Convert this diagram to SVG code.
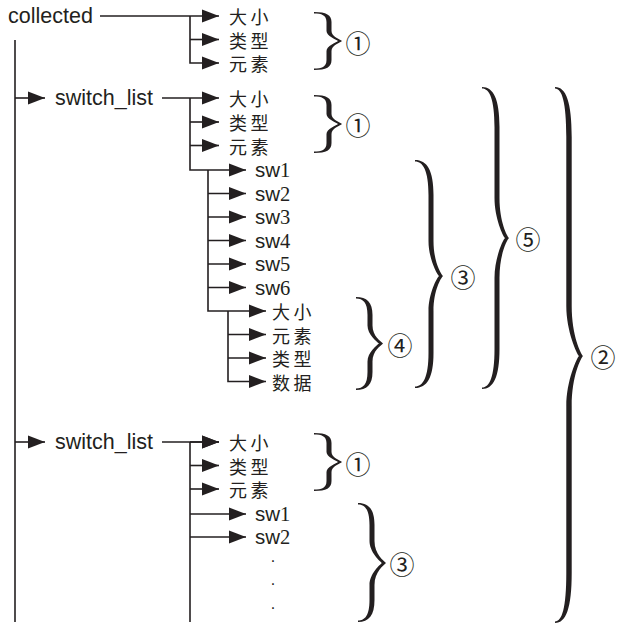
<svg xmlns="http://www.w3.org/2000/svg" xmlns:xlink="http://www.w3.org/1999/xlink" width="619" height="630" viewBox="0 0 619 630">
<style>
.lat{font-family:"Liberation Sans",Arial,sans-serif;font-size:21.5px;fill:#231f20}
.sw{font-family:"Liberation Sans",Arial,sans-serif;font-size:20.5px;fill:#231f20}
.dig{font-family:"Liberation Serif","Times New Roman",serif}
.cn{font-family:"Noto Sans CJK SC",sans-serif;font-size:18px;letter-spacing:3.5px;fill:#231f20;dominant-baseline:central;font-weight:400}
.num{font-family:"Noto Sans CJK SC",sans-serif;font-size:25px;fill:#231f20;text-anchor:middle;dominant-baseline:central;font-weight:400}
.dot{font-family:"Liberation Sans",sans-serif;font-size:16px;fill:#231f20;text-anchor:middle}
.ln{fill:none;stroke:#231f20;stroke-width:1.6}
.ar{marker-end:url(#ah)}
.br{fill:#231f20}
</style>
<defs>
<marker id="ah" markerUnits="userSpaceOnUse" markerWidth="17" markerHeight="14" refX="17" refY="7" orient="auto"><path d="M0,0.5 L17,7 L0,13.5 Z" fill="#231f20"/></marker>
<path id="b1" class="br" d="M0,0 C12.5,0 17.5,3 17.5,10 L17.5,19 C17.5,25 26,27 28,29 C26,31 17.5,33 17.5,39 L17.5,48 C17.5,55 12.5,58 0,58 L0,56.5 C7.5,56.5 12.5,55 12.5,48 L12.5,39 C12.5,34 22,30.5 24,29 C22,27.5 12.5,24 12.5,19 L12.5,10 C12.5,3 7.5,1.5 0,1.5 Z"/>
</defs>
<rect width="619" height="630" fill="#ffffff"/>

<g id="connectors">
<path class="ln" d="M15,40 V622"/>
<path class="ln ar" d="M100,16 H219"/>
<path class="ln ar" d="M190,16 V63 H219"/>
<path class="ln ar" d="M190,39.5 H219"/>
<path class="ln ar" d="M15,98 H45"/>
<path class="ln ar" d="M15,442 H45"/>
<path class="ln ar" d="M162,98 H219"/>
<path class="ln ar" d="M190,98 V170 H246"/>
<path class="ln ar" d="M190,122 H219"/>
<path class="ln ar" d="M190,145.5 H219"/>
<path class="ln ar" d="M208,170 V311 H266"/>
<path class="ln ar" d="M208,193.5 H246"/>
<path class="ln ar" d="M208,217 H246"/>
<path class="ln ar" d="M208,240.5 H246"/>
<path class="ln ar" d="M208,264 H246"/>
<path class="ln ar" d="M208,287.5 H246"/>
<path class="ln ar" d="M228,311 V381.5 H266"/>
<path class="ln ar" d="M228,334.5 H266"/>
<path class="ln ar" d="M228,358 H266"/>
<path class="ln ar" d="M162,442 H219"/>
<path class="ln" d="M190,442 V622"/>
<path class="ln ar" d="M190,442 H219"/>
<path class="ln ar" d="M190,465.5 H219"/>
<path class="ln ar" d="M190,489 H219"/>
<path class="ln ar" d="M190,514 H246"/>
<path class="ln ar" d="M190,537 H246"/>
</g>

<g id="collected"><text class="lat" x="8" y="23">collected</text></g>
<g id="c-size"><text class="cn" x="229" y="16">大小</text></g>
<g id="c-type"><text class="cn" x="229" y="39.5">类型</text></g>
<g id="c-elem"><text class="cn" x="229" y="63">元素</text></g>

<g id="switch_list_1"><text class="lat" x="55" y="105">switch_list</text></g>
<g id="s1-size"><text class="cn" x="229" y="98">大小</text></g>
<g id="s1-type"><text class="cn" x="229" y="122">类型</text></g>
<g id="s1-elem"><text class="cn" x="229" y="145.5">元素</text></g>
<g id="sw1"><text class="sw" x="255" y="177">sw<tspan class="dig">1</tspan></text></g>
<g id="sw2"><text class="sw" x="255" y="200.5">sw<tspan class="dig">2</tspan></text></g>
<g id="sw3"><text class="sw" x="255" y="224">sw<tspan class="dig">3</tspan></text></g>
<g id="sw4"><text class="sw" x="255" y="247.5">sw<tspan class="dig">4</tspan></text></g>
<g id="sw5"><text class="sw" x="255" y="271">sw<tspan class="dig">5</tspan></text></g>
<g id="sw6"><text class="sw" x="255" y="294.5">sw<tspan class="dig">6</tspan></text></g>
<g id="e-size"><text class="cn" x="272" y="311">大小</text></g>
<g id="e-elem"><text class="cn" x="272" y="334.5">元素</text></g>
<g id="e-type"><text class="cn" x="272" y="358">类型</text></g>
<g id="e-data"><text class="cn" x="272" y="381.5">数据</text></g>

<g id="switch_list_2"><text class="lat" x="55" y="449">switch_list</text></g>
<g id="s2-size"><text class="cn" x="229" y="442">大小</text></g>
<g id="s2-type"><text class="cn" x="229" y="465.5">类型</text></g>
<g id="s2-elem"><text class="cn" x="229" y="489">元素</text></g>
<g id="s2-sw1"><text class="sw" x="255" y="521">sw<tspan class="dig">1</tspan></text></g>
<g id="s2-sw2"><text class="sw" x="255" y="544">sw<tspan class="dig">2</tspan></text></g>
<g id="dots">
<text class="dot" x="273" y="562">.</text>
<text class="dot" x="273" y="585">.</text>
<text class="dot" x="273" y="609">.</text>
</g>

<g id="brace-1a"><use xlink:href="#b1" href="#b1" transform="translate(314,12)"/><text class="num" x="358" y="42">①</text></g>
<g id="brace-1b"><use xlink:href="#b1" href="#b1" transform="translate(314,95)"/><text class="num" x="358" y="124">①</text></g>
<g id="brace-1c"><use xlink:href="#b1" href="#b1" transform="translate(314,433)"/><text class="num" x="358" y="463">①</text></g>

<g id="brace-4"><path class="br" d="M356,297 C366.9,297 372.5,302.4 372.5,315 L372.5,325.5 C372.5,336.3 381,341.5 383,343.5 C381,345.5 372.5,350.7 372.5,361.5 L372.5,372 C372.5,384.6 366.9,390 356,390 L356,388.5 C363,388.5 367.5,384.6 367.5,372 L367.5,361.5 C367.5,352.5 377,345 379,343.5 C377,342 367.5,334.5 367.5,325.5 L367.5,315 C367.5,302.4 363,298.5 356,298.5 Z"/><text class="num" x="400" y="344">④</text></g>

<g id="brace-3a"><path class="br" d="M415,160 C427.1,160 433.5,170.5 433.5,195 L433.5,241 C433.5,262 441,274 443,276 C441,278 433.5,290 433.5,311 L433.5,353 C433.5,377.5 427.1,388 415,388 L415,386.5 C423,386.5 428.5,377.5 428.5,353 L428.5,311 C428.5,293.5 437,277.5 439,276 C437,274.5 428.5,258.5 428.5,241 L428.5,195 C428.5,170.5 423,161.5 415,161.5 Z"/><text class="num" x="463" y="276">③</text></g>

<g id="brace-5"><path class="br" d="M482,87 C493.5,87 499.5,99 499.5,127 L499.5,198 C499.5,222 507,236 509,238 C507,240 499.5,254 499.5,278 L499.5,349 C499.5,377 493.5,389 482,389 L482,387.5 C489.5,387.5 494.5,377 494.5,349 L494.5,278 C494.5,258 503,239.5 505,238 C503,236.5 494.5,218 494.5,198 L494.5,127 C494.5,99 489.5,88.5 482,88.5 Z"/><text class="num" x="528" y="238">⑤</text></g>

<g id="brace-2"><path class="br" d="M555,87 C566.1,87 571.7,102 571.7,137 L571.7,306 C571.7,336 581,354 583,356 C581,358 571.7,376 571.7,406 L571.7,573 C571.7,608 566.1,623 555,623 L555,621.5 C562,621.5 566.3,608 566.3,573 L566.3,406 C566.3,381 577,357.5 579,356 C577,354.5 566.3,331 566.3,306 L566.3,137 C566.3,102 562,88.5 555,88.5 Z"/><text class="num" x="603" y="356">②</text></g>

<g id="brace-3b"><path class="br" d="M358,503 C368.9,503 374.5,509.6 374.5,525 L374.5,541 C374.5,554.2 384,561 386,563 C384,565 374.5,571.8 374.5,585 L374.5,600 C374.5,615.4 368.9,622 358,622 L358,620.5 C365,620.5 369.5,615.4 369.5,600 L369.5,585 C369.5,574 380,564.5 382,563 C380,561.5 369.5,552 369.5,541 L369.5,525 C369.5,509.6 365,504.5 358,504.5 Z"/><text class="num" x="402" y="563">③</text></g>
</svg>
